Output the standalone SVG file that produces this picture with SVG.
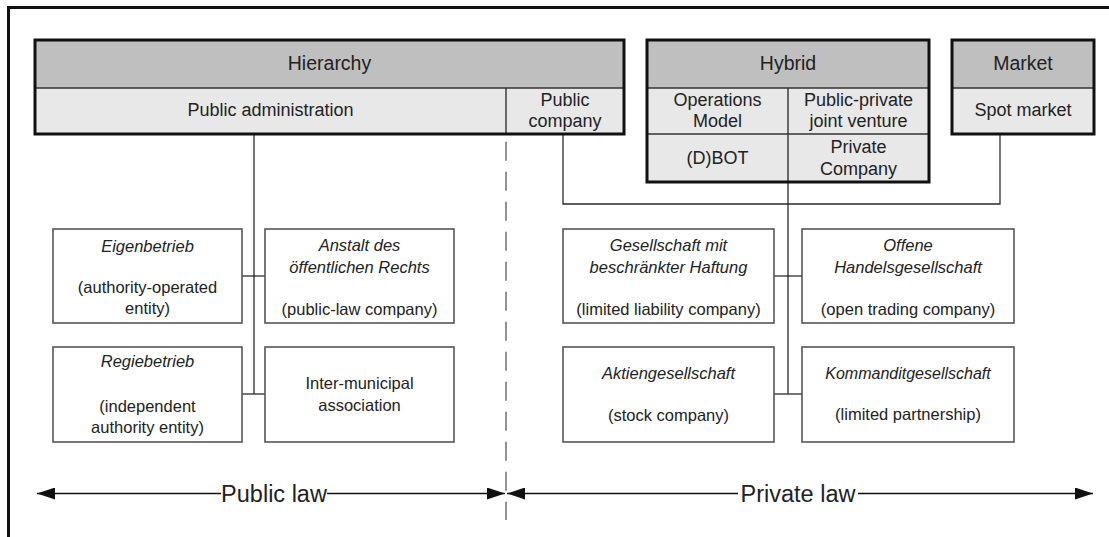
<svg xmlns="http://www.w3.org/2000/svg" width="1109" height="537" viewBox="0 0 1109 537">
<defs>
<style>
text{font-family:"Liberation Sans",Arial,sans-serif;fill:#222;text-anchor:middle}
.hd{font-size:19.5px}
.cl{font-size:18px}
.bx{font-size:16.5px}
.it{font-style:italic}
.law{font-size:23.5px}
.head{fill:#bfbfbf}
.cell{fill:#e8e8e8}
.outer{fill:none;stroke:#111;stroke-width:3}
.div{fill:none;stroke:#333;stroke-width:1.4}
.box{fill:#fff;stroke:#555;stroke-width:1.6}
.con{fill:none;stroke:#2a2a2a;stroke-width:1.3}
.dash{fill:none;stroke:#777;stroke-width:1.6;stroke-dasharray:19 11}
.arr{fill:none;stroke:#111;stroke-width:1.6}
</style>
<marker id="ah" viewBox="0 0 18 12" refX="18" refY="6" markerWidth="18" markerHeight="12" markerUnits="userSpaceOnUse" orient="auto-start-reverse">
<path d="M0,0 L18,6 L0,12 Z" fill="#111"/>
</marker>
</defs>
<path d="M8.5,537 V7.5 H1109" fill="none" stroke="#111" stroke-width="3"/>

<g id="connectors">
<line class="dash" x1="506" y1="141.7" x2="506" y2="520"/>
<line class="con" x1="254" y1="134" x2="254" y2="394"/>
<line class="con" x1="242" y1="276" x2="265" y2="276"/>
<line class="con" x1="242" y1="394" x2="265" y2="394"/>
<line class="con" x1="788" y1="182" x2="788" y2="394"/>
<line class="con" x1="774" y1="276" x2="802" y2="276"/>
<line class="con" x1="774" y1="394" x2="802" y2="394"/>
<path class="con" d="M563,134 V204 H1000 V134"/>
</g>

<g id="hierarchy">
<rect class="head" x="35" y="40" width="589" height="48"/>
<rect class="cell" x="35" y="88" width="589" height="46"/>
<line class="div" x1="35" y1="88" x2="624" y2="88"/>
<line class="div" x1="506" y1="88" x2="506" y2="134"/>
<rect class="outer" x="35" y="40" width="589" height="94"/>
<text class="hd" x="329.5" y="69.5">Hierarchy</text>
<text class="cl" x="270.5" y="116">Public administration</text>
<text class="cl" x="565" y="106">Public</text>
<text class="cl" x="565" y="127">company</text>
</g>

<g id="hybrid">
<rect class="head" x="647" y="40" width="282" height="48"/>
<rect class="cell" x="647" y="88" width="282" height="94"/>
<line class="div" x1="647" y1="88" x2="929" y2="88"/>
<line class="div" x1="647" y1="134" x2="929" y2="134"/>
<line class="div" x1="788" y1="88" x2="788" y2="182"/>
<rect class="outer" x="647" y="40" width="282" height="142"/>
<text class="hd" x="788" y="70">Hybrid</text>
<text class="cl" x="717.5" y="106">Operations</text>
<text class="cl" x="717.5" y="127">Model</text>
<text class="cl" x="858.5" y="106">Public-private</text>
<text class="cl" x="858.5" y="127">joint venture</text>
<text class="cl" x="717.5" y="164">(D)BOT</text>
<text class="cl" x="858.5" y="153">Private</text>
<text class="cl" x="858.5" y="175">Company</text>
</g>

<g id="market">
<rect class="head" x="952" y="40" width="142" height="48"/>
<rect class="cell" x="952" y="88" width="142" height="46"/>
<line class="div" x1="952" y1="88" x2="1094" y2="88"/>
<rect class="outer" x="952" y="40" width="142" height="94"/>
<text class="hd" x="1023" y="70">Market</text>
<text class="cl" x="1023" y="116">Spot market</text>
</g>

<g id="eigenbetrieb">
<rect class="box" x="53" y="229" width="189" height="94"/>
<text class="bx it" x="147.5" y="252">Eigenbetrieb</text>
<text class="bx" x="147.5" y="293">(authority-operated</text>
<text class="bx" x="147.5" y="314">entity)</text>
</g>
<g id="anstalt">
<rect class="box" x="265" y="229" width="189" height="94"/>
<text class="bx it" x="359.5" y="251">Anstalt des</text>
<text class="bx it" x="359.5" y="272.5">öffentlichen Rechts</text>
<text class="bx" x="359.5" y="315">(public-law company)</text>
</g>
<g id="regiebetrieb">
<rect class="box" x="53" y="347" width="189" height="95"/>
<text class="bx it" x="147.5" y="367">Regiebetrieb</text>
<text class="bx" x="147.5" y="412">(independent</text>
<text class="bx" x="147.5" y="433">authority entity)</text>
</g>
<g id="intermunicipal">
<rect class="box" x="265" y="347" width="189" height="95"/>
<text class="bx" x="359.5" y="389">Inter-municipal</text>
<text class="bx" x="359.5" y="411">association</text>
</g>

<g id="gmbh">
<rect class="box" x="563" y="229" width="211" height="94"/>
<text class="bx it" x="668.5" y="251">Gesellschaft mit</text>
<text class="bx it" x="668.5" y="272.5">beschränkter Haftung</text>
<text class="bx" x="668.5" y="315">(limited liability company)</text>
</g>
<g id="ohg">
<rect class="box" x="802" y="229" width="212" height="94"/>
<text class="bx it" x="908" y="251">Offene</text>
<text class="bx it" x="908" y="272.5">Handelsgesellschaft</text>
<text class="bx" x="908" y="315">(open trading company)</text>
</g>
<g id="ag">
<rect class="box" x="563" y="347" width="211" height="95"/>
<text class="bx it" x="668.5" y="379">Aktiengesellschaft</text>
<text class="bx" x="668.5" y="421">(stock company)</text>
</g>
<g id="kg">
<rect class="box" x="802" y="347" width="212" height="95"/>
<text class="bx it" x="908" y="379" style="font-size:16px">Kommanditgesellschaft</text>
<text class="bx" x="908" y="420">(limited partnership)</text>
</g>

<g id="law-axis">
<line class="arr" x1="221" y1="493.5" x2="37" y2="493.5" marker-end="url(#ah)"/>
<line class="arr" x1="327" y1="493.5" x2="505" y2="493.5" marker-end="url(#ah)"/>
<text class="law" x="274" y="502">Public law</text>
<line class="arr" x1="738" y1="493.5" x2="507" y2="493.5" marker-end="url(#ah)"/>
<line class="arr" x1="858" y1="493.5" x2="1093" y2="493.5" marker-end="url(#ah)"/>
<text class="law" x="798" y="502">Private law</text>
</g>
</svg>
